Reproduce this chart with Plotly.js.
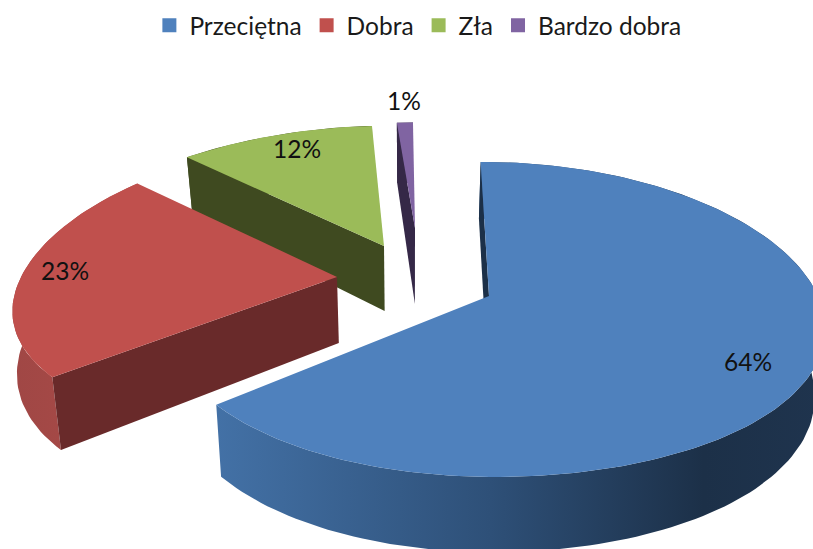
<!DOCTYPE html>
<html><head><meta charset="utf-8">
<script src="https://cdn.plot.ly/plotly-3.0.1.min.js"></script>
<style>html,body{margin:0;padding:0;background:#fff}</style></head>
<body><div id="chart" style="width:813px;height:549px"></div>
<script>
// Data
const categories = ["Przeciętna", "Dobra", "Zła", "Bardzo dobra"];
const shares = [64.1, 23.0, 11.8, 1.1];
// Style
const faceColors = ["#4f81bd", "#c0504d", "#9bbb59", "#8064a2"];
const edgeColors = ["#1c3048", "#692a2a", "#3f4a20", "#352847"];
const arcStops = [
  [[0,"#4371a6"],[0.45,"#2e5078"],[0.8,"#1c3048"],[1,"#1f344e"]],
  [[0,"#a04745"],[1,"#ab4b48"]],
  [[0,"#3f4a20"],[1,"#3f4a20"]],
  [[0,"#352847"],[1,"#352847"]]
];
// Projection of each exploded slice (apex, radii, perspective, wall height)
const apexX = [489, 337, 384, 415];
const apexY = [296, 277, 246, 228];
const radXL = [316, 316, 334, 303];
const radXR = [329, 316, 334, 303];
const radY  = [154, 146.6, 156.5, 137];
const perspX = [0.19, 0.229, 0.30, 0.30];
const perspY = [0.149, 0.103, 0.30, 0.30];
const shear = [6, 0, -8, 0];
const wall  = [66, 66, 65, 76];
const wallP = [0.14, 0.16, 0.15, 0.21];
const wallBiasA = [1, 0.2, 1, 1];
const wallBiasB = [0, 1.2, 0, 0];
const labelX = [748, 65, 297, 404];
const labelY = [361, 270, 148, 100];
const startAngle = -0.5, vanishX = 410, wallScale = 0.975;

const rad = d => d * Math.PI / 180;
function topPoint(i, a) {
  const u = Math.sin(rad(a)), v = -Math.cos(rad(a));
  const A = u < 0 ? radXL[i] : radXR[i];
  return [apexX[i] + A*u/(1 - perspX[i]*v) + shear[i]*v, apexY[i] + radY[i]*v/(1 - perspY[i]*v)];
}
function bottomPoint(i, a, atApex) {
  const p = atApex ? [apexX[i], apexY[i]] : topPoint(i, a);
  const v = atApex ? 0 : -Math.cos(rad(a));
  const bias = atApex ? 1 : Math.max(0, wallBiasA[i] + wallBiasB[i]*v);
  return [p[0] + (vanishX - p[0])*(1 - wallScale)*bias, p[1] + wall[i]*(1 + wallP[i]*v)];
}
function arcAngles(a0, a1) {
  const out = [], n = Math.max(4, Math.ceil((a1-a0)/1.5));
  for (let k = 0; k <= n; k++) out.push(a0 + (a1-a0)*k/n);
  return out;
}
function poly(points, extra) {
  return Object.assign({
    x: points.map(p => p[0]), y: points.map(p => p[1]),
    type: "scatter", mode: "lines", fill: "toself", line: {width: 0},
    hoverinfo: "skip", showlegend: false
  }, extra);
}

const total = shares.reduce((s, v) => s + v, 0);
const ranges = [];
let cursor = startAngle;
shares.forEach(v => { const e = cursor + v/total*360; ranges.push([cursor, e]); cursor = e; });

const traces = [];
[3, 2, 1, 0].forEach(i => {
  const [a0, a1] = ranges[i];
  const angs = arcAngles(a0, a1);
  const topArc = angs.map(a => topPoint(i, a));
  const botArc = angs.map(a => bottomPoint(i, a));
  traces.push(poly(topArc.concat(botArc.slice().reverse()), {
    fillgradient: {type: "horizontal", colorscale: arcStops[i]}, fillcolor: edgeColors[i]
  }));
  traces.push(poly([topPoint(i, a0), [apexX[i], apexY[i]], bottomPoint(i, 0, true), bottomPoint(i, a0)], {fillcolor: edgeColors[i]}));
  traces.push(poly([[apexX[i], apexY[i]]].concat(topArc), {fillcolor: faceColors[i]}));
});
categories.forEach((c, i) => traces.push({
  x: [null], y: [null], type: "scatter", mode: "markers", name: c,
  marker: {symbol: "square", size: 14, color: faceColors[i]}, hoverinfo: "skip"
}));

const font = "Lato, 'Open Sans', sans-serif";
const layout = {
  width: 813, height: 549, margin: {l: 0, r: 0, t: 0, b: 0},
  paper_bgcolor: "#fff", plot_bgcolor: "#fff",
  xaxis: {range: [0, 813], visible: false, fixedrange: true},
  yaxis: {range: [549, 0], visible: false, fixedrange: true},
  showlegend: true,
  legend: {orientation: "h", x: 0.514, xanchor: "center", y: 0.995, yanchor: "top",
           font: {family: font, size: 24.5, color: "#1a1a1a"}, itemclick: false, itemdoubleclick: false,
           traceorder: "normal", bgcolor: "rgba(0,0,0,0)"},
  annotations: shares.map((v, i) => ({
    x: labelX[i], y: labelY[i], xref: "x", yref: "y", showarrow: false,
    text: Math.round(v) + "%", font: {family: font, size: 24.5, color: "#111"}
  }))
};
Plotly.newPlot("chart", traces, layout, {displayModeBar: false});
</script></body></html>
